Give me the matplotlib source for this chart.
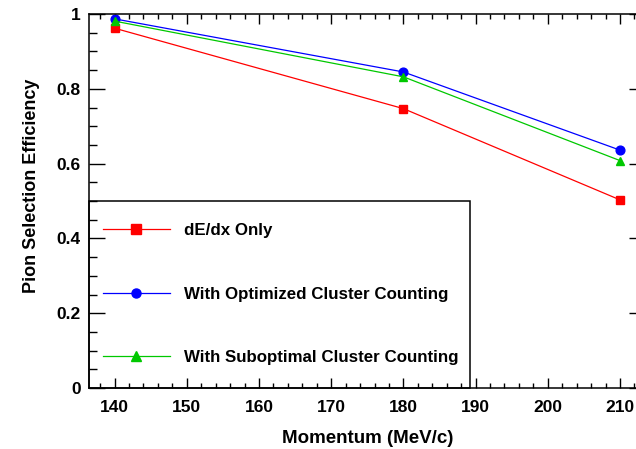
import matplotlib
matplotlib.use("Agg")
import matplotlib.pyplot as plt
from matplotlib.ticker import MultipleLocator
from matplotlib.lines import Line2D
from matplotlib.patches import Rectangle

momentum = [140, 180, 210]
dedx_only = [0.962, 0.747, 0.503]
optimized = [0.987, 0.845, 0.636]
suboptimal = [0.981, 0.832, 0.608]
labels = ["dE/dx Only", "With Optimized Cluster Counting", "With Suboptimal Cluster Counting"]

plt.rcParams['font.family'] = ['Liberation Sans', 'DejaVu Sans']
plt.rcParams['font.weight'] = 'bold'

W, H = 636, 449
AX_L, AX_R, AX_T, AX_B = 89.3, 645.3, 14, 388

fig = plt.figure(figsize=(6.36, 4.49), dpi=100)
ax = fig.add_axes([AX_L / W, (H - AX_B) / H, (AX_R - AX_L) / W, (AX_B - AX_T) / H])

red, blue, green = '#ff0000', '#0000ff', '#00c800'
ax.plot(momentum, dedx_only, color=red, lw=0.9, marker='s', ms=6, mec=red, mfc=red)
ax.plot(momentum, optimized, color=blue, lw=0.9, marker='o', ms=6.3, mec=blue, mfc=blue)
ax.plot(momentum, suboptimal, color=green, lw=0.9, marker='^', ms=6.3, mec=green, mfc=green)

ax.set_xlim(136.5, 213.5)
ax.set_ylim(0, 1)
ax.xaxis.set_major_locator(MultipleLocator(10))
ax.xaxis.set_minor_locator(MultipleLocator(2))
ax.yaxis.set_major_locator(MultipleLocator(0.2))
ax.yaxis.set_minor_locator(MultipleLocator(0.05))

def yfmt(v, pos):
    if abs(v) < 1e-9:
        return "0"
    if abs(v - 1) < 1e-9:
        return "1"
    return f"{v:.1f}"
ax.yaxis.set_major_formatter(plt.FuncFormatter(yfmt))

ax.tick_params(axis='x', which='major', direction='in', length=7.2, width=1, top=True,
               labelsize=12.5, pad=8.5)
ax.tick_params(axis='x', which='minor', direction='in', length=3.6, width=1, top=True)
ax.tick_params(axis='y', which='major', direction='in', length=11.5, width=1, right=True,
               labelsize=12.5, pad=6)
ax.tick_params(axis='y', which='minor', direction='in', length=5.8, width=1, right=True)
for lab in ax.get_xticklabels() + ax.get_yticklabels():
    lab.set_fontweight('bold')
for s in ax.spines.values():
    s.set_linewidth(1.1)

ax.set_xlabel("Momentum (MeV/c)", fontsize=13.5, fontweight='bold', labelpad=11)
ax.set_ylabel("Pion Selection Efficiency", fontsize=13, fontweight='bold', labelpad=12)
ax.yaxis.label.set_y((AX_B - 186) / (AX_B - AX_T))

def px_to_axes(px, py):
    return (px - AX_L) / (AX_R - AX_L), (AX_B - py) / (AX_B - AX_T)

lx0, ly1 = px_to_axes(AX_L, 201)
lx1, ly0 = px_to_axes(470, AX_B)
ax.add_patch(Rectangle((lx0, ly0), lx1 - lx0, ly1 - ly0, transform=ax.transAxes,
                       fill=False, edgecolor='black', lw=1.1, clip_on=False, zorder=5))

handles = [
    Line2D([], [], color=red, lw=0.9, marker='s', ms=6.5, mfc=red, mec=red),
    Line2D([], [], color=blue, lw=0.9, marker='o', ms=6.5, mfc=blue, mec=blue),
    Line2D([], [], color=green, lw=0.9, marker='^', ms=6.5, mfc=green, mec=green),
]
anc = px_to_axes(103, 294)
leg = ax.legend(handles, labels, loc='center left', bbox_to_anchor=anc,
                bbox_transform=ax.transAxes, frameon=False,
                prop={'size': 12.2, 'weight': 'bold'},
                handlelength=3.95, handletextpad=0.83, labelspacing=2.85,
                borderpad=0, borderaxespad=0, numpoints=1)

fig.savefig("out.png", dpi=100)
